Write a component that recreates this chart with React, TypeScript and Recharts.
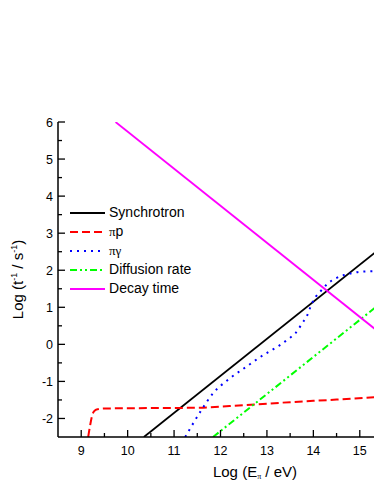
import { Legend, Line, LineChart, XAxis, YAxis } from "recharts"

// series points (x = Log E, y = Log rate)
const synchrotron = [
  { x: 10.35, y: -2.5 },
  { x: 15.5, y: 2.65 },
]
const piP = [
  { x: 9.15, y: -2.5 },
  { x: 9.19, y: -2.2 },
  { x: 9.23, y: -1.95 },
  { x: 9.28, y: -1.8 },
  { x: 9.35, y: -1.75 },
  { x: 9.5, y: -1.73 },
  { x: 10.5, y: -1.72 },
  { x: 11.5, y: -1.71 },
  { x: 12.5, y: -1.64 },
  { x: 13.5, y: -1.56 },
  { x: 14.5, y: -1.49 },
  { x: 15.5, y: -1.41 },
]
const piGamma = [
  { x: 11.24, y: -2.5 },
  { x: 11.37, y: -2.22 },
  { x: 11.59, y: -1.77 },
  { x: 11.84, y: -1.32 },
  { x: 12.2, y: -0.92 },
  { x: 12.56, y: -0.6 },
  { x: 12.92, y: -0.29 },
  { x: 13.28, y: -0.02 },
  { x: 13.5, y: 0.18 },
  { x: 13.62, y: 0.31 },
  { x: 13.76, y: 0.57 },
  { x: 13.87, y: 0.79 },
  { x: 13.95, y: 1.05 },
  { x: 14.05, y: 1.28 },
  { x: 14.16, y: 1.44 },
  { x: 14.3, y: 1.63 },
  { x: 14.48, y: 1.78 },
  { x: 14.66, y: 1.87 },
  { x: 14.84, y: 1.92 },
  { x: 15.02, y: 1.96 },
  { x: 15.5, y: 1.98 },
]
const diffusion = [
  { x: 11.84, y: -2.5 },
  { x: 15.5, y: 1.16 },
]
const decay = [
  { x: 9.74, y: 6 },
  { x: 15.5, y: 0.24 },
]

const legendOrder = ["Synchrotron", "πp", "πγ", "Diffusion rate", "Decay time"]
const xTicks = [9, 9.5, 10, 10.5, 11, 11.5, 12, 12.5, 13, 13.5, 14, 14.5, 15]
const yTicks = [-2, -1.5, -1, -0.5, 0, 0.5, 1, 1.5, 2, 2.5, 3, 3.5, 4, 4.5, 5, 5.5, 6]

const FONT = "'Liberation Sans', Arial, sans-serif"
const SERIF = "'Liberation Serif', 'Times New Roman', serif"

const BottomTick = ({ x, y, payload }: any) => {
  const v = payload.value
  const major = Number.isInteger(v)
  return (
    <g>
      <line x1={x} x2={x} y1={y} y2={y - (major ? 7 : 4)} stroke="#000" strokeWidth={1.3} />
      {major && (
        <text x={x} y={y + 18} textAnchor="middle" fontSize={12.5} fontFamily={FONT} fill="#000">
          {v}
        </text>
      )}
    </g>
  )
}

const TopTick = ({ x, y, payload }: any) => {
  const major = Number.isInteger(payload.value)
  return <line x1={x} x2={x} y1={y} y2={y + (major ? 7 : 4)} stroke="#000" strokeWidth={1.3} />
}

const LeftTick = ({ x, y, payload }: any) => {
  const v = payload.value
  const major = Number.isInteger(v)
  return (
    <g>
      <line x1={x} x2={x + (major ? 7 : 4)} y1={y} y2={y} stroke="#000" strokeWidth={1.3} />
      {major && (
        <text x={x - 5} y={y + 4.5} textAnchor="end" fontSize={12.5} fontFamily={FONT} fill="#000">
          {v}
        </text>
      )}
    </g>
  )
}

const XTitle = ({ viewBox }: any) => (
  <text x={viewBox.x + 197} y={viewBox.y + 39.5} textAnchor="middle" fontSize={15} fontFamily={FONT} fill="#000">
    Log (E
    <tspan fontSize={8} fontFamily={SERIF} dy={2}>π</tspan>
    <tspan dy={-2}> / eV)</tspan>
  </text>
)

const YTitle = ({ viewBox }: any) => {
  const cx = viewBox.x + 23
  const cy = viewBox.y + viewBox.height / 2
  return (
    <text
      x={cx}
      y={cy}
      transform={`rotate(-90, ${cx}, ${cy})`}
      textAnchor="middle"
      fontSize={15}
      fontFamily={FONT}
      fill="#000"
    >
      Log (t
      <tspan fontSize={9} dy={-6}>-1</tspan>
      <tspan dy={6}> / s</tspan>
      <tspan fontSize={9} dy={-6}>-1</tspan>
      <tspan dy={6}>)</tspan>
    </text>
  )
}

// greek letters in the legend are set in a serif face, smaller
const renderName = (name: string) =>
  name.split("").map((ch, i) =>
    /[πγ]/.test(ch) ? (
      <span key={i} style={{ fontFamily: SERIF, fontSize: 13 }}>
        {ch}
      </span>
    ) : (
      <span key={i}>{ch}</span>
    )
  )

const LegendBox = ({ payload }: any) => {
  const items = [...(payload || [])].sort(
    (a: any, b: any) => legendOrder.indexOf(a.value) - legendOrder.indexOf(b.value)
  )
  return (
    <div style={{ fontFamily: FONT, fontSize: 14, color: "#000" }}>
      {items.map((item: any) => (
        <div key={item.value} style={{ display: "flex", alignItems: "center", height: 19 }}>
          <svg width={35} height={4} style={{ marginRight: 4 }}>
            <line
              x1={0}
              x2={35}
              y1={2}
              y2={2}
              stroke={item.color}
              strokeWidth={2}
              strokeDasharray={item.payload?.strokeDasharray}
            />
          </svg>
          <span style={{ lineHeight: "19px", whiteSpace: "nowrap" }}>{renderName(item.value)}</span>
        </div>
      ))}
    </div>
  )
}

export default function App() {
  return (
    <div style={{ position: "fixed", left: 0, top: 0, width: 374, height: 484, overflow: "hidden", background: "#fff" }}>
      <LineChart width={420} height={484} margin={{ top: 122, right: 37, bottom: 0, left: 0 }}>
        <XAxis
          xAxisId="bottom"
          dataKey="x"
          type="number"
          domain={[8.5, 15.5]}
          allowDataOverflow
          ticks={xTicks}
          interval={0}
          height={47}
          tickSize={0}
          tickMargin={0}
          tickLine={false}
          tick={<BottomTick />}
          axisLine={{ stroke: "#000", strokeWidth: 1.5 }}
          label={<XTitle />}
        />
        <XAxis
          xAxisId="top"
          orientation="top"
          dataKey="x"
          type="number"
          domain={[8.5, 15.5]}
          allowDataOverflow
          ticks={xTicks}
          interval={0}
          height={0}
          tickSize={0}
          tickMargin={0}
          tickLine={false}
          tick={<TopTick />}
          axisLine={{ stroke: "#000", strokeWidth: 1.5 }}
        />
        <YAxis
          dataKey="y"
          type="number"
          domain={[-2.5, 6]}
          allowDataOverflow
          ticks={yTicks}
          interval={0}
          width={58}
          tickSize={0}
          tickMargin={0}
          tickLine={false}
          tick={<LeftTick />}
          axisLine={{ stroke: "#000", strokeWidth: 1.5 }}
          label={<YTitle />}
        />
        <Legend
          layout="vertical"
          align="center"
          verticalAlign="middle"
          content={<LegendBox />}
          wrapperStyle={{ position: "absolute", left: 70, top: 203, width: 160 }}
        />
        <Line
          xAxisId="bottom"
          data={synchrotron}
          dataKey="y"
          name="Synchrotron"
          type="linear"
          stroke="#000000"
          strokeWidth={1.8}
          dot={false}
          isAnimationActive={false}
        />
        <Line
          xAxisId="bottom"
          data={piP}
          dataKey="y"
          name="πp"
          type="monotone"
          stroke="#ff0000"
          strokeWidth={2}
          strokeDasharray="8 4"
          dot={false}
          isAnimationActive={false}
        />
        <Line
          xAxisId="bottom"
          data={piGamma}
          dataKey="y"
          name="πγ"
          type="monotone"
          stroke="#0000ff"
          strokeWidth={2}
          strokeDasharray="2 5"
          dot={false}
          isAnimationActive={false}
        />
        <Line
          xAxisId="bottom"
          data={diffusion}
          dataKey="y"
          name="Diffusion rate"
          type="linear"
          stroke="#00ff00"
          strokeWidth={2}
          strokeDasharray="7 3 2 3 2 3"
          dot={false}
          isAnimationActive={false}
        />
        <Line
          xAxisId="bottom"
          data={decay}
          dataKey="y"
          name="Decay time"
          type="linear"
          stroke="#ff00ff"
          strokeWidth={1.8}
          dot={false}
          isAnimationActive={false}
        />
      </LineChart>
    </div>
  )
}
